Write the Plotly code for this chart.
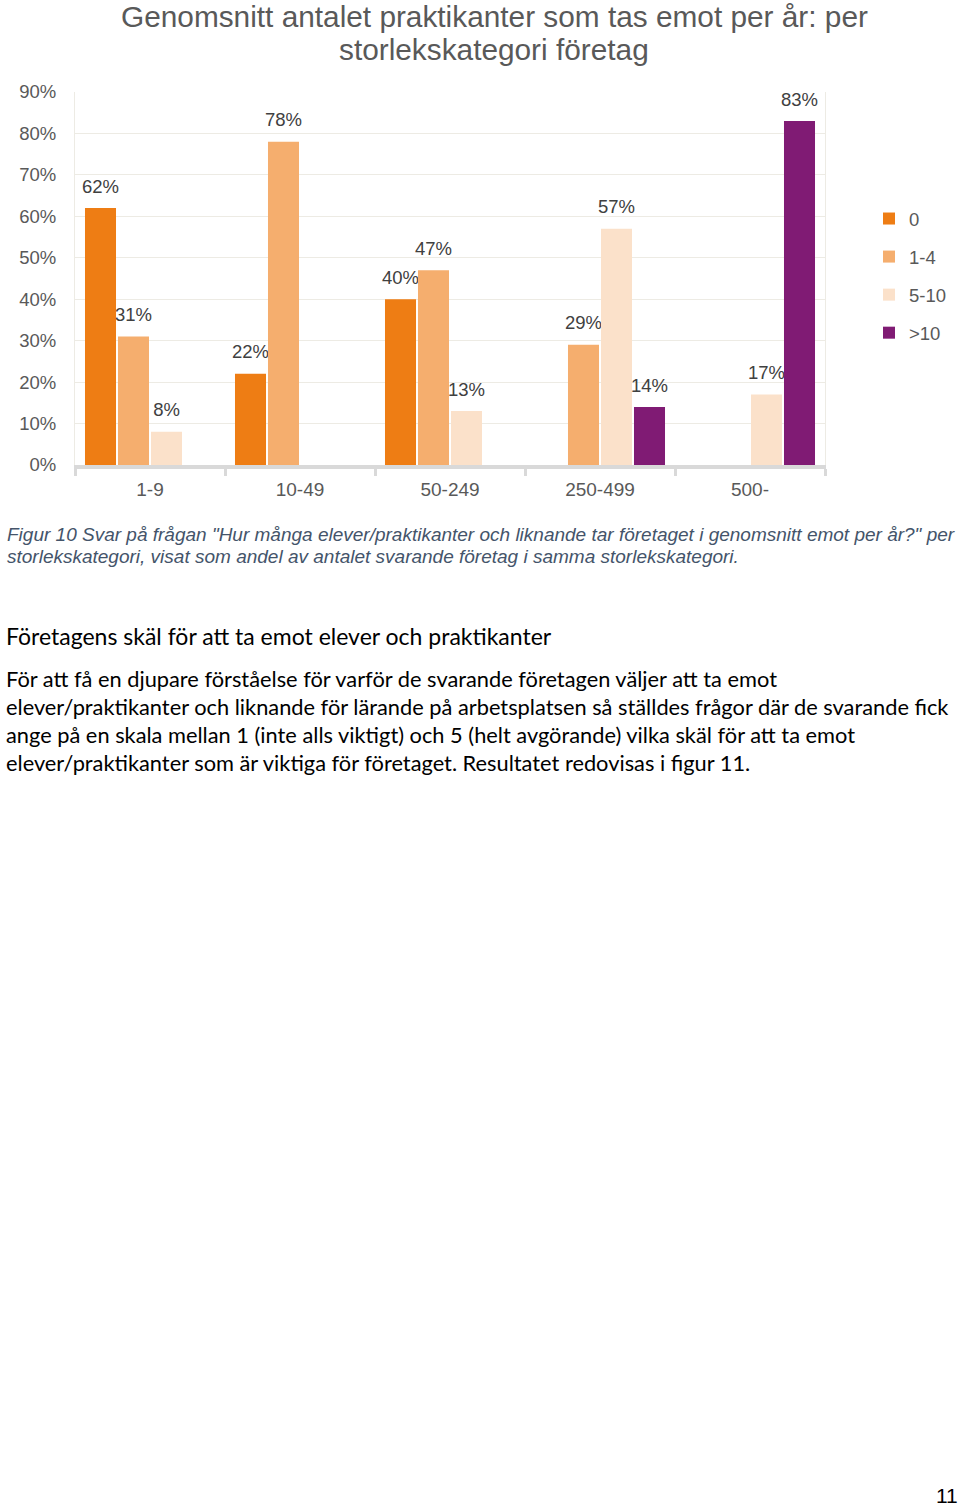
import plotly.graph_objects as go

categories = ["1-9", "10-49", "50-249", "250-499", "500-"]
series_names = ["0", "1-4", "5-10", ">10"]
values_0 = [0.62, 0.22, 0.40, None, None]
values_1_4 = [0.31, 0.78, 0.47, 0.29, None]
values_5_10 = [0.08, None, 0.13, 0.57, 0.17]
values_gt10 = [None, None, None, 0.14, 0.83]
series_values = [values_0, values_1_4, values_5_10, values_gt10]
colors = ["#EE7D14", "#F5AE6E", "#FBE1CA", "#801B74"]

W, H = 960, 1508
L, R, T, B = 75, 825, 92, 465  # plot area in page pixels

def px_x(p):
    return (p - L) / (R - L)

def px_y(p):
    return (B - p) / (B - T)

FONT = "Liberation Sans, Arial"
BODY_FONT = "Lato"

fig = go.Figure()
for name, vals, col in zip(series_names, series_values, colors):
    fig.add_trace(go.Bar(
        name=name, x=categories, y=vals, marker_color=col,
        marker_line_width=0,
        text=[f"<span style='font-size:18.5px'>{round(v*100)}%</span><br>&nbsp;" if v is not None else ""
              for v in vals],
        textposition="outside", cliponaxis=False, constraintext="none",
        textfont=dict(family=FONT, size=8, color="#404040"),
        legendgroup=name,
    ))

fig.update_layout(
    width=W, height=H,
    margin=dict(l=L, r=W - R, t=T, b=H - B, autoexpand=False),
    paper_bgcolor="white", plot_bgcolor="white",
    barmode="group", bargap=0.12, bargroupgap=0.06,
    font=dict(family=FONT, color="#595959"),
    legend=dict(
        x=px_x(869), xanchor="left", y=px_y(200), yanchor="top",
        font=dict(family=FONT, size=18.5, color="#595959"),
        tracegroupgap=11, traceorder="grouped",
        bgcolor="rgba(0,0,0,0)",
    ),
    showlegend=True,
)

fig.update_yaxes(
    range=[0, 0.9], dtick=0.1, tickformat=".0%",
    showgrid=True, gridcolor="#EDEBE4", gridwidth=1,
    showline=True, linecolor="#EDEBE4", linewidth=1, mirror=True,
    zeroline=False, ticks="", ticklabelstandoff=14,
    tickfont=dict(family=FONT, size=18.5, color="#595959"),
)
fig.update_xaxes(
    showline=True, linecolor="#D9D9D9", linewidth=4,
    ticks="outside", tickson="boundaries", ticklen=7, tickwidth=3, tickcolor="#D9D9D9",
    ticklabelstandoff=4,
    tickfont=dict(family=FONT, size=19, color="#595959"),
    showgrid=False,
)

title_lines = ["Genomsnitt antalet praktikanter som tas emot per år: per", "storlekskategori företag"]
title_y = [16, 50]
for txt, yy in zip(title_lines, title_y):
    fig.add_annotation(
        text=txt, xref="paper", yref="paper", x=px_x(494), y=px_y(yy),
        xanchor="center", yanchor="middle", showarrow=False,
        font=dict(family=FONT, size=29.8, color="#595959"),
    )

caption_lines = [
    "Figur 10 Svar på frågan \"Hur många elever/praktikanter och liknande tar företaget i genomsnitt emot per år?\" per",
    "storlekskategori, visat som andel av antalet svarande företag i samma storlekskategori.",
]
caption_y = [534, 556]
for txt, yy in zip(caption_lines, caption_y):
    fig.add_annotation(
        text=f"<i>{txt}</i>", xref="paper", yref="paper",
        x=px_x(5), y=px_y(yy), xanchor="left", yanchor="middle", showarrow=False,
        font=dict(family=FONT, size=19, color="#44546A"),
    )

fig.add_annotation(
    text="Företagens skäl för att ta emot elever och praktikanter",
    xref="paper", yref="paper", x=px_x(4), y=px_y(636), xanchor="left", yanchor="middle",
    showarrow=False, font=dict(family=BODY_FONT, size=23, color="#000000"),
)

body_lines = [
    "För att få en djupare förståelse för varför de svarande företagen väljer att ta emot",
    "elever/praktikanter och liknande för lärande på arbetsplatsen så ställdes frågor där de svarande fick",
    "ange på en skala mellan 1 (inte alls viktigt) och 5 (helt avgörande) vilka skäl för att ta emot",
    "elever/praktikanter som är viktiga för företaget. Resultatet redovisas i figur 11.",
]
body_y = [678, 706, 734, 762]
for txt, yy in zip(body_lines, body_y):
    fig.add_annotation(
        text=txt, xref="paper", yref="paper", x=px_x(4), y=px_y(yy),
        xanchor="left", yanchor="middle", showarrow=False,
        font=dict(family=BODY_FONT, size=21.8, color="#000000"),
    )

fig.add_annotation(
    text="11", xref="paper", yref="paper", x=px_x(960), y=px_y(1495),
    xanchor="right", yanchor="middle", showarrow=False,
    font=dict(family=FONT, size=21, color="#000000"),
)

fig.write_html(
    "out.html",
    config={"displayModeBar": False},
    post_script="document.body.style.margin='0';document.body.style.overflow='hidden';",
)
